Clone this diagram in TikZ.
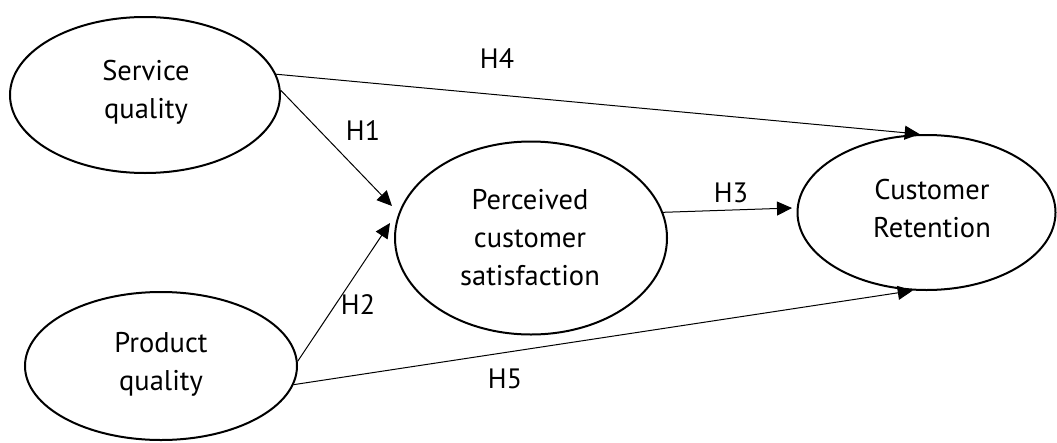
\documentclass[tikz,border=0pt]{standalone}
\usepackage{fontspec}
\setmainfont{PT Sans}
\usetikzlibrary{shapes.geometric,arrows.meta}
\tikzset{
  latent/.style={draw, ellipse, line width=2pt, inner sep=0pt},
  lbl/.style={font=\fontsize{28.5}{38}\selectfont, align=center, inner sep=0pt},
  hyp/.style={font=\fontsize{28}{32}\selectfont, inner sep=0pt},
  path/.style={line width=1pt, -{Triangle[length=15pt,width=14pt]}}
}
\begin{document}
\begin{tikzpicture}[x=1pt,y=-1pt]
\useasboundingbox (0,0) rectangle (1057,442);
\node[latent, minimum width=270pt, minimum height=156pt] (sq) at (145,95) {};
\node[latent, minimum width=272pt, minimum height=193pt] (pcs) at (531,238) {};
\node[latent, minimum width=258pt, minimum height=155pt] (cr) at (926.5,212.5) {};
\node[latent, minimum width=272pt, minimum height=148pt] (pq) at (161,366) {};
\node[lbl] (sqt) at (146,92) {Service\\quality};
\node[lbl] (pcst) at (530,238) {Perceived\\customer\\satisfaction};
\node[lbl] (crt) at (932,208.5) {Customer\\Retention};
\node[lbl] (pqt) at (161,364.5) {Product\\quality};
\coordinate (h1tip) at (392,206);
\coordinate (h2tip) at (390,223);
\coordinate (h3tip) at (792,208);
\draw[path] (sq.9.5) -- (cr.95);
\draw[path] (sq.2) -- (h1tip);
\draw[path] (pq.2) -- (h2tip);
\draw[path] (pcs.11) -- (h3tip);
\draw[path] (pq.-8) -- (cr.260);
\node[hyp] (h4) at (497,59) {H4};
\node[hyp] (h1) at (363,131) {H1};
\node[hyp] (h2) at (358,305) {H2};
\node[hyp] (h3) at (731,193) {H3};
\node[hyp] (h5) at (505,379) {H5};
\end{tikzpicture}
\end{document}
